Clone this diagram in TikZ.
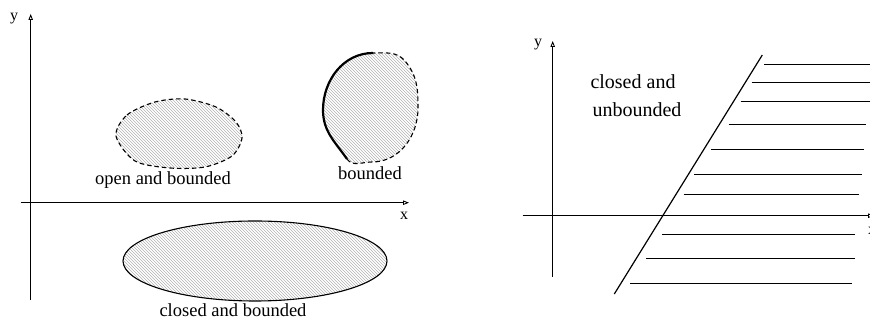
\documentclass[tikz,border=0pt]{standalone}
\usepackage{fontspec}
\setmainfont{Liberation Serif}
\usetikzlibrary{arrows.meta,patterns}
\begin{document}
\begin{tikzpicture}[x=1pt,y=1pt,
  axis/.style={line width=0.9pt,-{Triangle[open,length=6pt,width=4.5pt]}},
  region/.style={pattern=north west lines,pattern color=gray!60},
  edge/.style={line width=1.1pt},
  dashedge/.style={line width=1.1pt,dash pattern=on 4.5pt off 3pt},
  thickedge/.style={line width=2.2pt},
  lbl/.style={font=\fontsize{18.5}{20}\selectfont,anchor=base,inner sep=0pt},
  lblr/.style={font=\fontsize{20}{22}\selectfont,anchor=base,inner sep=0pt},
  axl/.style={font=\fontsize{16}{18}\selectfont,anchor=base,inner sep=0pt},
  hatch/.style={line width=1pt}]
\useasboundingbox (0,0) rectangle (870,320);

% ---------- left panel ----------
\coordinate (ly0) at (30.7,20);
\coordinate (ly1) at (30.7,306);
\coordinate (lx0) at (20.7,117.3);
\coordinate (lx1) at (409,117.3);

% closed and bounded ellipse
\fill[region] (255,59) ellipse [x radius=132,y radius=40];
\draw[edge] (255,59) ellipse [x radius=132,y radius=40];

% open and bounded blob
\fill[region] plot[smooth cycle] coordinates {(116,184) (127,205) (155,218) (185,221) (216,213) (236,198) (242,182) (232,164) (205,153) (170,152) (135,159)};
\draw[dashedge] plot[smooth cycle] coordinates {(116,184) (127,205) (155,218) (185,221) (216,213) (236,198) (242,182) (232,164) (205,153) (170,152) (135,159)};

% bounded blob (part boundary included)
\coordinate (bA) at (373,267);
\coordinate (bB) at (323,210);
\coordinate (bC) at (347,161);
\coordinate (bD) at (372,158);
\coordinate (bE) at (418,212);
\coordinate (bF) at (405,259);
\fill[region] (bA) to[out=180,in=90] (bB) to[out=-90,in=125] (bC)
  to[out=-55,in=180] (bD) to[out=0,in=-90] (bE) to[out=90,in=-50] (bF)
  to[out=130,in=0] (bA) -- cycle;
\draw[dashedge] (bC) to[out=-55,in=180] (bD) to[out=0,in=-90] (bE)
  to[out=90,in=-50] (bF) to[out=130,in=0] (bA);
\draw[thickedge] (bA) to[out=180,in=90] (bB) to[out=-90,in=125] (bC);

\draw[axis] (ly0) -- (ly1);
\draw[axis] (lx0) -- (lx1);

\node[axl] (ylabL) at (14,299) {y};
\node[axl] (xlabL) at (404,100) {x};
\node[lbl] (tOpen) at (163,135.5) {open and bounded};
\node[lbl] (tBnd) at (370,140) {bounded};
\node[lbl] (tClosed) at (233,3) {closed and bounded};

% ---------- right panel ----------
\coordinate (ry0) at (552.7,43.3);
\coordinate (ry1) at (552.7,279);
\coordinate (rx0) at (522.7,104.3);
\coordinate (rx1) at (874,104.3);
\draw[axis] (ry0) -- (ry1);
\draw[axis] (rx0) -- (rx1);
\node[axl] (ylabR) at (538,273.3) {y};
\node[axl] (xlabR) at (872,85) {x};

\coordinate (s0) at (614.3,26);
\coordinate (s1) at (762.3,265);
\draw[line width=1.2pt] (s0) -- (s1);

\foreach \a/\b/\yy in {764.3/870/255, 751.7/870/237.3, 740.7/870/218.3,
  728.7/865.7/195, 711/864/170, 694.3/862.3/145.7, 683.7/859/125,
  662.3/855/85, 646/855/61, 630/851.7/36.7}{
  \draw[hatch] (\a,\yy) -- (\b,\yy);
}

\node[lblr] (tCU1) at (633,231.7) {closed and};
\node[lblr] (tCU2) at (637,203.3) {unbounded};
\end{tikzpicture}
\end{document}
